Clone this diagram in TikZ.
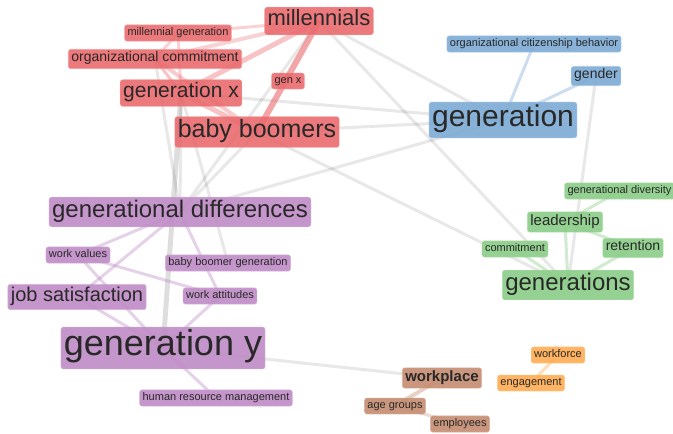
\documentclass[tikz,border=0pt]{standalone}
\usepackage{fontspec}
\setmainfont{Liberation Sans}
\usetikzlibrary{backgrounds}
\definecolor{rouge}{RGB}{234,106,110}
\definecolor{bleu}{RGB}{124,170,212}
\definecolor{mauve}{RGB}{191,139,197}
\definecolor{vert}{RGB}{138,204,134}
\definecolor{brun}{RGB}{196,140,112}
\definecolor{orangeclair}{RGB}{255,172,82}
\definecolor{texte}{RGB}{40,40,40}
\tikzset{
	mot/.style={rounded corners=2.5pt, inner xsep=3pt, inner ysep=2.5pt,
		fill opacity=0.9, draw opacity=0.5, text opacity=1, text=texte, line width=0.8pt,
		execute at begin node=\strut},
	taille/.style={font=\fontsize{#1}{#1}\selectfont},
	gras/.style={font=\fontsize{#1}{#1}\selectfont\bfseries},
	motrouge/.style={mot, fill=rouge, draw=rouge!70!white},
	motbleu/.style={mot, fill=bleu, draw=bleu!70!white},
	motmauve/.style={mot, fill=mauve, draw=mauve!70!white},
	motvert/.style={mot, fill=vert, draw=vert!70!white},
	motbrun/.style={mot, fill=brun, draw=brun!70!white},
	motorange/.style={mot, fill=orangeclair, draw=orangeclair!70!white},
	lien/.style={draw=black, draw opacity=0.09, line width=3pt},
	liencouleur/.style={draw=#1, draw opacity=0.4, line width=3pt},
}
\begin{document}
\begin{tikzpicture}[x=1pt,y=-1pt]
	\useasboundingbox (0,0) rectangle (673,434);
%					Groupe rouge :
	\node[motrouge,taille=22] (millennials) at (319,21) {millennials};
	\node[motrouge,taille=11] (millgen) at (178,33) {millennial generation};
	\node[motrouge,taille=14] (orgcom) at (155,59) {organizational commitment};
	\node[motrouge,taille=21] (genx) at (181,93) {generation x};
	\node[motrouge,taille=11] (genxc) at (288,81) {gen x};
	\node[motrouge,taille=25] (boomers) at (257,132) {baby boomers};
%					Groupe bleu :
	\node[motbleu,taille=30] (generation) at (503,120) {generation};
	\node[motbleu,taille=11] (ocb) at (534,44) {organizational citizenship behavior};
	\node[motbleu,taille=14] (gender) at (596,76) {gender};
%					Groupe mauve :
	\node[motmauve,taille=24] (gendiff) at (180,212) {generational differences};
	\node[motmauve,taille=11] (workval) at (78,255) {work values};
	\node[motmauve,taille=11] (bbgen) at (228,263) {baby boomer generation};
	\node[motmauve,taille=20] (jobsat) at (77,297) {job satisfaction};
	\node[motmauve,taille=11] (workatt) at (220,296) {work attitudes};
	\node[motmauve,taille=36] (geny) at (163,348) {generation y};
	\node[motmauve,taille=11] (hrm) at (216,398) {human resource management};
%					Groupe vert :
	\node[motvert,taille=11] (gendiv) at (619.5,191) {generational diversity};
	\node[motvert,taille=15] (leader) at (565,222) {leadership};
	\node[motvert,taille=11] (commit) at (515,249) {commitment};
	\node[motvert,taille=14] (retention) at (633,248) {retention};
	\node[motvert,taille=24] (generations) at (568,285) {generations};
%					Groupes brun et orange :
	\node[motbrun,gras=15] (workplace) at (442,378) {workplace};
	\node[motbrun,taille=11] (agegr) at (395,406) {age groups};
	\node[motbrun,taille=11] (employees) at (460,424) {employees};
	\node[motorange,taille=11] (workforce) at (558,355) {workforce};
	\node[motorange,taille=11] (engage) at (531,383) {engagement};
%					Liens :
	\begin{scope}[on background layer]
		\draw[lien] (millennials.center) -- (generation.center);
		\draw[lien] (millennials.center) -- (generations.center);
		\draw[lien] (millennials.center) -- (gendiff.center);
		\draw[lien] (genx.center) -- (generation.center);
		\draw[lien] (boomers.center) -- (generation.center);
		\draw[lien] (boomers.center) -- (generations.center);
		\draw[lien] (gendiff.center) -- (generation.center);
		\draw[lien] (gender.center) -- (generations.center);
		\draw[lien,line width=5pt,draw opacity=0.13] (genx.center) -- (geny.center);
		\draw[lien] (genx.center) -- (gendiff.center);
		\draw[lien] (genx.center) -- (bbgen.center);
		\draw[lien] (orgcom.center) -- (gendiff.center);
		\draw[lien] (boomers.center) -- (gendiff.center);
		\draw[lien] (geny.center) -- (workplace.center);
		\draw[liencouleur=rouge,line width=6pt,draw opacity=0.6] (millennials.center) -- (boomers.center);
		\draw[liencouleur=rouge,line width=5pt] (millennials.center) -- (genx.center);
		\draw[liencouleur=rouge,line width=4pt,draw opacity=0.3] (millennials.center) -- (orgcom.center);
		\draw[liencouleur=rouge,draw opacity=0.3] (millennials.center) -- (millgen.center);
		\draw[liencouleur=rouge,draw opacity=0.3] (millgen.center) -- (genx.center);
		\draw[liencouleur=rouge,draw opacity=0.3] (millgen.center) -- (orgcom.center);
		\draw[liencouleur=rouge,line width=4pt,draw opacity=0.35] (orgcom.center) -- (boomers.center);
		\draw[liencouleur=rouge] (orgcom.center) -- (genx.center);
		\draw[liencouleur=rouge,line width=5pt] (genx.center) -- (boomers.center);
		\draw[liencouleur=bleu] (generation.center) -- (ocb.center);
		\draw[liencouleur=bleu] (generation.center) -- (gender.center);
		\draw[liencouleur=mauve] (gendiff.center) -- (workval.center);
		\draw[liencouleur=mauve] (gendiff.center) -- (jobsat.center);
		\draw[liencouleur=mauve] (gendiff.center) -- (workatt.center);
		\draw[liencouleur=mauve] (workval.center) -- (workatt.center);
		\draw[liencouleur=mauve] (workval.center) -- (geny.center);
		\draw[liencouleur=mauve] (jobsat.center) -- (geny.center);
		\draw[liencouleur=mauve] (workatt.center) -- (geny.center);
		\draw[liencouleur=mauve] (geny.center) -- (hrm.center);
		\draw[liencouleur=vert] (generations.center) -- (leader.center);
		\draw[liencouleur=vert] (generations.center) -- (commit.center);
		\draw[liencouleur=vert] (generations.center) -- (retention.center);
		\draw[liencouleur=vert] (leader.center) -- (retention.center);
		\draw[liencouleur=vert] (leader.center) -- (gendiv.center);
		\draw[liencouleur=brun,line width=4pt] (workplace.center) -- (agegr.center);
		\draw[liencouleur=brun,draw opacity=0.3] (agegr.center) -- (employees.center);
		\draw[liencouleur=orangeclair] (workforce.center) -- (engage.center);
	\end{scope}
\end{tikzpicture}
\end{document}
